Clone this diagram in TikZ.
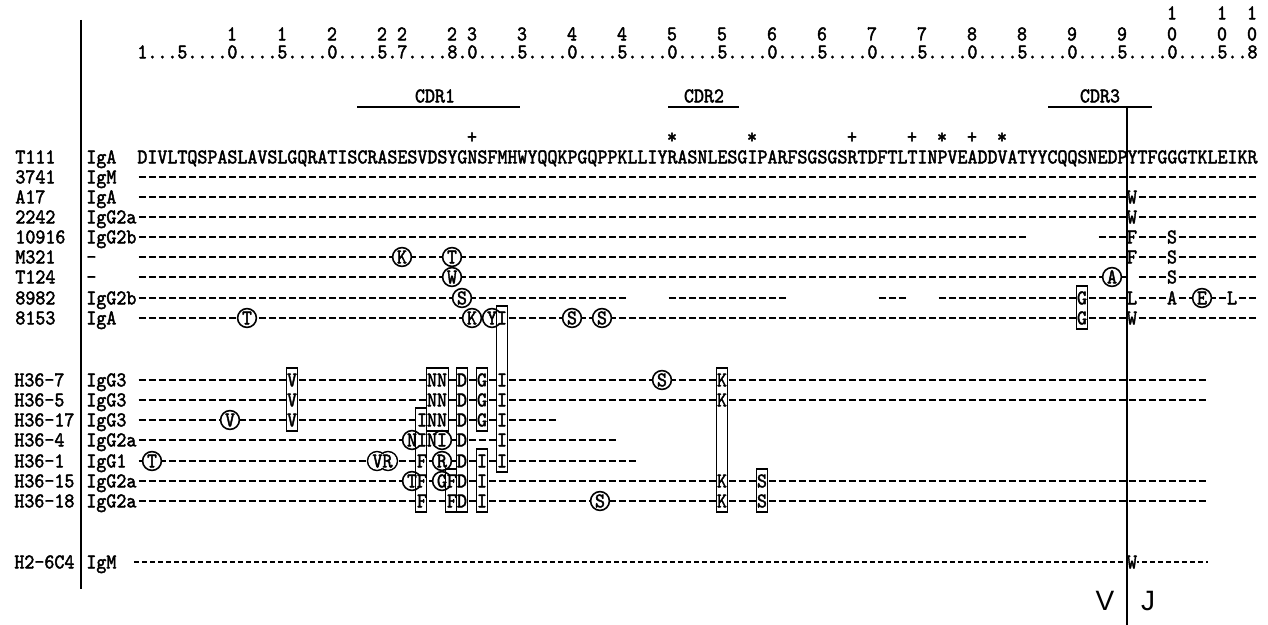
\documentclass[tikz,border=0pt]{standalone}
\usepackage{fontspec}
\usetikzlibrary{positioning}
\newfontfamily\seqfont{lmmono10-regular.otf}[FakeBold=2,FakeStretch=0.9071]
\newfontfamily\vjfont{Liberation Sans}
\newcommand{\seqsize}{\fontsize{10.5pt}{12pt}\selectfont}

\begin{document}
\begin{tikzpicture}[x=0.5pt,y=-0.5pt,
  seq/.style={font=\seqfont\seqsize,inner sep=0pt,text height=6.4pt,text depth=0pt},
  lbl/.style={seq,anchor=west},
  res/.style={seq,fill=white,minimum width=4.4pt},
  circres/.style={seq,circle,draw,fill=white,line width=0.8pt,minimum size=9.4pt},
  dashrow/.style={line width=0.85pt,dash pattern=on 3.8pt off 1.2pt},
  finerow/.style={line width=0.6pt,dash pattern=on 2.5pt off 1.5pt},
  grpbox/.style={draw,line width=0.7pt},
  rule/.style={line width=0.85pt}
]
\useasboundingbox (0,0) rectangle (1268,625);

% numbering ruler
\foreach \cc in {104,109,112}
  \node[seq] (hun-\cc) at ({132+10*\cc},13) {1};
\foreach \cc/\dd in {10/1,15/1,20/2,25/2,27/2,32/2,34/3,39/3,44/4,49/4,54/5,59/5,
                     64/6,69/6,74/7,79/7,84/8,89/8,94/9,99/9,104/0,109/0,112/0}
  \node[seq] (ten-\cc) at ({132+10*\cc},34) {\dd};
\node[seq,anchor=west] (units) at (137,52)
  {1...5....0....5....0....5.7....8.0....5....0....5....0....5....0....5....0....5....0....5....0....5....0....5..8};

% CDR bars
\node[seq] (cdr1) at (435,96) {CDR1};
\node[seq] (cdr2) at (704,96) {CDR2};
\node[seq] (cdr3) at (1100,96) {CDR3};
\coordinate (c1a) at (357,107); \coordinate (c1b) at (520,107);
\coordinate (c2a) at (668,107); \coordinate (c2b) at (739,107);
\coordinate (c3a) at (1048,107); \coordinate (c3b) at (1152,107);
\draw[rule] (c1a) -- (c1b);
\draw[rule] (c2a) -- (c2b);
\draw[rule] (c3a) -- (c3b);

% markers
\foreach \cc/\mm in {34/+,54/*,62/*,72/+,78/+,81/*,84/+,87/*}
  \node[seq] (mk-\cc) at ({132+10*\cc},137) {\mm};

% T111
\node[lbl] (n-t111) at (15,157) {T111};
\node[lbl] (i-t111) at (86,157) {IgA};
\node[seq,anchor=west] (s-t111) at (137,157)
  {DIVLTQSPASLAVSLGQRATISCRASESVDSYGNSFMHWYQQKPGQPPKLLIYRASNLESGIPARFSGSGSRTDFTLTINPVEADDVATYYCQQSNEDPYTFGGGTKLEIKR};

% 3741
\node[lbl] (n-3741) at (15,177) {3741};
\node[lbl] (i-3741) at (86,177) {IgM};
\draw[dashrow] (138.5,177) -- (1257,177);

% A17
\node[lbl] (n-a17) at (15,197) {A17};
\node[lbl] (i-a17) at (86,197) {IgA};
\draw[dashrow] (138.5,197) -- (1257,197);
\node[res] (r-a17) at (1132,197) {W};

% 2242
\node[lbl] (n-2242) at (15,217) {2242};
\node[lbl] (i-2242) at (86,217) {IgG2a};
\draw[dashrow] (138.5,217) -- (1257,217);
\node[res] (r-2242) at (1132,217) {W};

% 10916
\node[lbl] (n-10916) at (15,237) {10916};
\node[lbl] (i-10916) at (86,237) {IgG2b};
\foreach \aa/\bb in {1/89,97/112}
  \draw[dashrow] ({128.5+10*\aa},237) -- ({137+10*\bb},237);
\foreach \cc/\res in {100/F,104/S}
  \node[res] (r-10916-\cc) at ({132+10*\cc},237) {\res};

% M321
\node[lbl] (n-m321) at (15,257) {M321};
\node[lbl] (i-m321) at (86,257) {-};
\draw[dashrow] (138.5,257) -- (1257,257);
\foreach \cc/\res in {27/K,32/T}
  \node[circres] (c-m321-\cc) at ({132+10*\cc},257) {\res};
\foreach \cc/\res in {100/F,104/S}
  \node[res] (r-m321-\cc) at ({132+10*\cc},257) {\res};

% T124
\node[lbl] (n-t124) at (15,277) {T124};
\node[lbl] (i-t124) at (86,277) {-};
\foreach \aa/\bb in {1/99,101/112}
  \draw[dashrow] ({128.5+10*\aa},277) -- ({137+10*\bb},277);
\foreach \cc/\res in {32/W,98/A}
  \node[circres] (c-t124-\cc) at ({132+10*\cc},277) {\res};
\node[res] (r-t124) at (1172,277) {S};

% 8982
\node[lbl] (n-8982) at (15,298) {8982};
\node[lbl] (i-8982) at (86,298) {IgG2b};
\foreach \aa/\bb in {1/49,54/65,75/77,81/112}
  \draw[dashrow] ({128.5+10*\aa},298) -- ({137+10*\bb},298);
\foreach \cc/\res in {33/S,107/E}
  \node[circres] (c-8982-\cc) at ({132+10*\cc},298) {\res};
\foreach \cc/\res in {95/G,100/L,104/A,110/L}
  \node[res] (r-8982-\cc) at ({132+10*\cc},298) {\res};

% 8153
\node[lbl] (n-8153) at (15,318) {8153};
\node[lbl] (i-8153) at (86,318) {IgA};
\draw[dashrow] (138.5,318) -- (1257,318);
\node[circres] (c-8153-12) at (247,318) {T};
\foreach \cc/\res in {34/K,36/Y,44/S,47/S}
  \node[circres] (c-8153-\cc) at ({132+10*\cc},318) {\res};
\foreach \cc/\res in {37/I,95/G,100/W}
  \node[res] (r-8153-\cc) at ({132+10*\cc},318) {\res};

% H36-7
\node[lbl] (n-h367) at (14,380) {H36-7};
\node[lbl] (i-h367) at (86,380) {IgG3};
\draw[dashrow] (138.5,380) -- (1207,380);
\foreach \cc/\res in {16/V,30/N,31/N,33/D,35/G,37/I,59/K}
  \node[res] (r-h367-\cc) at ({132+10*\cc},380) {\res};
\node[circres] (c-h367) at (662,380) {S};

% H36-5
\node[lbl] (n-h365) at (14,400) {H36-5};
\node[lbl] (i-h365) at (86,400) {IgG3};
\draw[dashrow] (138.5,400) -- (1207,400);
\foreach \cc/\res in {16/V,30/N,31/N,33/D,35/G,37/I,59/K}
  \node[res] (r-h365-\cc) at ({132+10*\cc},400) {\res};

% H36-17
\node[lbl] (n-h3617) at (14,420) {H36-17};
\node[lbl] (i-h3617) at (86,420) {IgG3};
\draw[dashrow] (138.5,420) -- (557,420);
\node[circres] (c-h3617) at (230,420) {V};
\foreach \cc/\res in {16/V,29/I,30/N,31/N,33/D,35/G,37/I}
  \node[res] (r-h3617-\cc) at ({132+10*\cc},420) {\res};

% H36-4
\node[lbl] (n-h364) at (14,440) {H36-4};
\node[lbl] (i-h364) at (86,440) {IgG2a};
\draw[dashrow] (138.5,440) -- (617,440);
\foreach \cc/\res in {28/N,31/I}
  \node[circres] (c-h364-\cc) at ({132+10*\cc},440) {\res};
\foreach \cc/\res in {29/I,30/N,33/D,37/I}
  \node[res] (r-h364-\cc) at ({132+10*\cc},440) {\res};

% H36-1
\node[lbl] (n-h361) at (14,461) {H36-1};
\node[lbl] (i-h361) at (86,461) {IgG1};
\draw[dashrow] (138.5,461) -- (637,461);
\foreach \cc/\res in {2/T,31/R}
  \node[circres] (c-h361-\cc) at ({132+10*\cc},461) {\res};
\draw[line width=0.8pt] (377,461) circle (4.7pt) (388,461) circle (4.7pt);
\fill[white] (377,461) circle (4.3pt) (388,461) circle (4.3pt);
\node[seq] (vr) at (382.5,461) {VR};
\foreach \cc/\res in {29/F,33/D,35/I,37/I}
  \node[res] (r-h361-\cc) at ({132+10*\cc},461) {\res};

% H36-15
\node[lbl] (n-h3615) at (14,481) {H36-15};
\node[lbl] (i-h3615) at (86,481) {IgG2a};
\draw[dashrow] (138.5,481) -- (1207,481);
\foreach \cc/\res in {28/T,31/G}
  \node[circres] (c-h3615-\cc) at ({132+10*\cc},481) {\res};
\foreach \cc/\res in {29/F,32/F,33/D,35/I,59/K,63/S}
  \node[res] (r-h3615-\cc) at ({132+10*\cc},481) {\res};

% H36-18
\node[lbl] (n-h3618) at (14,501) {H36-18};
\node[lbl] (i-h3618) at (86,501) {IgG2a};
\draw[dashrow] (138.5,501) -- (1207,501);
\node[circres] (c-h3618) at (600,501) {S};
\foreach \cc/\res in {29/F,32/F,33/D,35/I,59/K,63/S}
  \node[res] (r-h3618-\cc) at ({132+10*\cc},501) {\res};

% H2-6C4
\node[lbl] (n-h26c4) at (14,562) {H2-6C4};
\node[lbl] (i-h26c4) at (86,562) {IgM};
\draw[finerow] (134,562) -- (1208,562);
\node[res] (r-h26c4) at (1132,562) {W};

% shared substitutions
\draw[grpbox] (286.5,368) rectangle (297.5,431);
\draw[grpbox] (415.5,408) rectangle (426.5,512);
\draw[grpbox] (426.5,368) rectangle (448.5,431);
\draw[grpbox] (445.5,469) rectangle (456.5,512);
\draw[grpbox] (456.5,368) rectangle (467.5,512);
\draw[grpbox] (476.5,368) rectangle (487.5,431);
\draw[grpbox] (476.5,449) rectangle (487.5,512);
\draw[grpbox] (496.5,306) rectangle (507.5,472);
\draw[grpbox] (716.5,368) rectangle (727.5,512);
\draw[grpbox] (756.5,469) rectangle (767.5,512);
\draw[grpbox] (1076.5,286) rectangle (1087.5,329);

% frame lines and V/J junction
\coordinate (ltop) at (81,20);
\coordinate (lbot) at (81,589);
\coordinate (jtop) at (1127,107);
\coordinate (jbot) at (1127,625);
\draw[rule] (ltop) -- (lbot);
\draw[rule] (jtop) -- (jbot);
\node[font=\vjfont\fontsize{14}{14}\selectfont] (vlab) at (1105,601) {V};
\node[font=\vjfont\fontsize{14}{14}\selectfont] (jlab) at (1148,601) {J};
\end{tikzpicture}
\end{document}
